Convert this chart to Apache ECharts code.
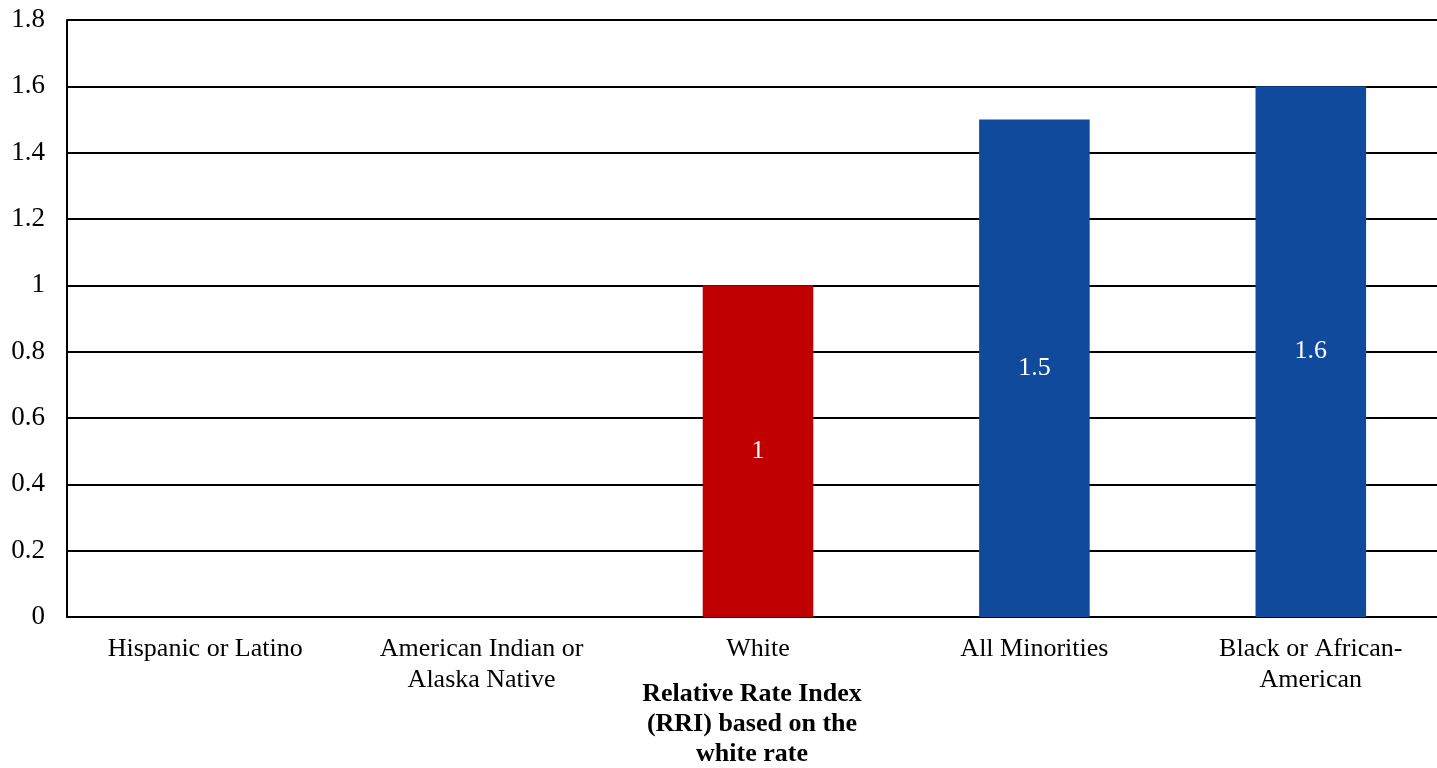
<!DOCTYPE html>
<html>
<head>
<meta charset="utf-8">
<script src="https://cdn.jsdelivr.net/npm/echarts@6/dist/echarts.min.js"></script>
<style>html,body{margin:0;padding:0;background:#fff;overflow:hidden;width:1437px;height:768px}#c{width:1449px;height:768px}</style>
</head>
<body>
<div id="c"></div>
<script>
const categories = ['Hispanic or Latino', 'American Indian or\nAlaska Native', 'White', 'All Minorities', 'Black or African-\nAmerican'];
const values = [null, null, 1, 1.5, 1.6];
const barColors = ['#0F4A9C', '#0F4A9C', '#C00000', '#0F4A9C', '#0F4A9C'];
const yTicks = { min: 0, max: 1.8, interval: 0.2 };
const axisTitle = 'Relative Rate Index\n(RRI) based on the\nwhite rate';

const font = '"Liberation Serif", "Times New Roman", serif';
const chart = echarts.init(document.getElementById('c'), null, { renderer: 'canvas' });
chart.setOption({
  animation: false,
  backgroundColor: '#fff',
  grid: { left: 67, right: 0, top: 20, bottom: 151, containLabel: false },
  xAxis: {
    type: 'category',
    data: categories,
    axisLine: { show: true, lineStyle: { color: '#000', width: 2 } },
    axisTick: { show: false },
    axisLabel: { color: '#000', fontFamily: font, fontSize: 26, lineHeight: 31, margin: 17, interval: 0 }
  },
  yAxis: {
    type: 'value',
    min: yTicks.min, max: yTicks.max, interval: yTicks.interval,
    axisLine: { show: true, lineStyle: { color: '#000', width: 2 } },
    axisTick: { show: false },
    splitLine: { show: true, lineStyle: { color: '#000', width: 2 } },
    axisLabel: { color: '#000', fontFamily: font, fontSize: 27, margin: 22,
      formatter: v => String(Math.round(v * 10) / 10) }
  },
  series: [{
    type: 'bar',
    data: values.map((v, i) => ({ value: v, itemStyle: { color: barColors[i] } })),
    barWidth: '40%',
    label: { show: true, position: 'inside', color: '#fff', fontFamily: font, fontSize: 26 }
  }],
  graphic: [{
    type: 'text',
    left: 752 - 150, top: 679,
    style: {
      text: axisTitle, width: 300, align: 'center',
      x: 150, textAlign: 'center',
      font: 'bold 26px ' + font, lineHeight: 30, fill: '#000'
    }
  }]
});
</script>
</body>
</html>
